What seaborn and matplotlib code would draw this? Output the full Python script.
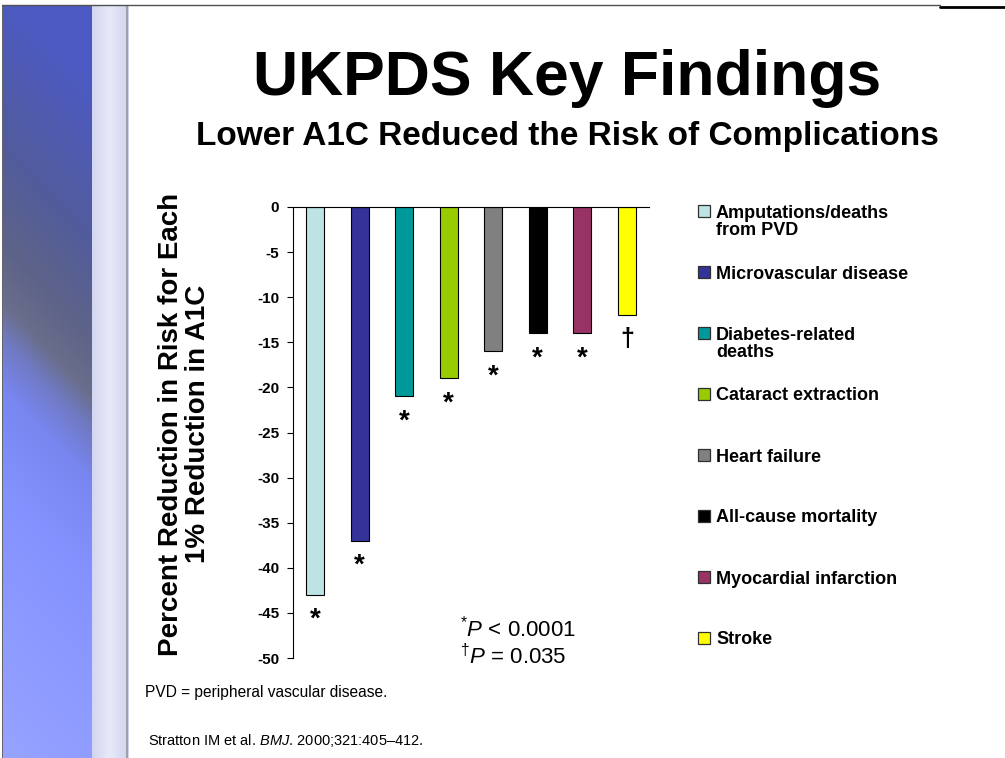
import numpy as np
import pandas as pd
import seaborn as sns
import matplotlib.pyplot as plt
from matplotlib.patches import Rectangle
from matplotlib.lines import Line2D

# values
findings = ['Amputations/deaths\nfrom PVD', 'Microvascular disease', 'Diabetes-related\ndeaths',
            'Cataract extraction', 'Heart failure', 'All-cause mortality',
            'Myocardial infarction', 'Stroke']
reduction = [-43, -37, -21, -19, -16, -14, -14, -12]
marks = ['*', '*', '*', '*', '*', '*', '*', '†']
bar_colors = ['#bde3e3', '#333399', '#009999', '#99cc00', '#808080', '#000000', '#993366', '#ffff00']
yticks = [0, -5, -10, -15, -20, -25, -30, -35, -40, -45, -50]

df = pd.DataFrame({'finding': findings, 'reduction': reduction})

sns.set_style('white')
plt.rcParams['font.family'] = ['Liberation Sans', 'DejaVu Sans']
plt.rcParams['text.color'] = 'black'
plt.rcParams['axes.labelcolor'] = 'black'
plt.rcParams['ytick.color'] = 'black'
plt.rcParams['xtick.color'] = 'black'
plt.rcParams['mathtext.fontset'] = 'custom'
plt.rcParams['mathtext.rm'] = 'Liberation Sans'
plt.rcParams['mathtext.it'] = 'Liberation Sans:italic'
plt.rcParams['mathtext.bf'] = 'Liberation Sans:bold'

W, H = 1005, 758
fig = plt.figure(figsize=(W / 100, H / 100), dpi=100)
fig.patch.set_facecolor('white')

# slide side bar: blue with a soft dark diagonal band
x0, y0, sw = 2, 5, 129
sh = H - y0
yy, xx = np.mgrid[0:sh, 0:sw - x0].astype(float)
yy += y0
xx += x0
d = yy - 290 - 1.06 * (xx - 5)
stops = [-300, -140, -40, 15, 50, 100, 200, 450]
cols = np.array([[77, 90, 195], [82, 92, 156], [94, 100, 136], [106, 110, 140],
                 [112, 122, 195], [120, 134, 240], [132, 146, 255], [150, 162, 255]]) / 255
img = np.stack([np.interp(d, stops, cols[:, k]) for k in range(3)], axis=-1)
s = ((xx - 92) / 34)[..., None]
lo = np.array([210, 214, 240]) / 255
hi = np.array([232, 234, 250]) / 255
light = lo + (hi - lo) * (1 - np.abs(2 * s - 1))
strip = xx >= 92
img[strip] = light[strip]
img[:, 126 - x0:128 - x0] = np.array([160, 160, 168]) / 255
img[:, 0] = np.array([100, 100, 105]) / 255
side = fig.add_axes([x0 / W, 0, (sw - x0) / W, sh / H])
side.imshow(img, aspect='auto', interpolation='bilinear')
side.axis('off')

fig.add_artist(Line2D([x0 / W, 940 / W], [1 - 5 / H] * 2, color='#505050', lw=1))
fig.add_artist(Line2D([940 / W, 1], [1 - 6.5 / H] * 2, color='black', lw=2))

# titles
fig.text(567 / W, 1 - 95 / H, 'UKPDS Key Findings', ha='center', va='baseline',
         fontsize=45, fontweight='bold')
fig.text(567 / W, 1 - 145 / H, 'Lower A1C Reduced the Risk of Complications', ha='center',
         va='baseline', fontsize=24, fontweight='bold')

# bar chart
ax = fig.add_axes([293 / W, 1 - 658 / H, 356 / W, 451 / H])
sns.barplot(data=df, x='finding', y='reduction', hue='finding', palette=bar_colors,
            width=0.4, saturation=1, edgecolor='black', linewidth=0.8, legend=False, ax=ax)
ax.set_ylim(-50, 0)
ax.set_xlim(-0.5, 7.5)
ax.set_yticks(yticks)
ax.set_yticklabels([str(t) for t in yticks], fontsize=11, fontweight='bold')
ax.set_xticks([])
ax.set_xlabel('')
ax.set_ylabel('')
for sp in ['bottom', 'right']:
    ax.spines[sp].set_visible(False)
for sp in ['left', 'top']:
    ax.spines[sp].set_color('black')
    ax.spines[sp].set_linewidth(0.8)
ax.tick_params(axis='y', direction='out', length=4, width=0.8, color='black', left=True, pad=6)
ax.set_facecolor('none')

for i, (v, m) in enumerate(zip(reduction, marks)):
    off = -23 if m == '*' else -22
    ax.annotate(m, xy=(i, v), xytext=(0, off), textcoords='offset points',
                ha='center', va='baseline', fontsize=20 if m == '*' else 18, fontweight='bold')

fig.text(460 / W, 1 - 636 / H, r'$^{*}\mathit{P}$ < 0.0001', fontsize=16, va='baseline')
fig.text(460 / W, 1 - 664 / H, r'$^{†}\mathit{P}$ = 0.035', fontsize=16, va='baseline')

fig.text(184 / W, 1 - 424 / H, 'Percent Reduction in Risk for Each\n1% Reduction in A1C',
         rotation=90, ha='center', va='center', multialignment='center',
         fontsize=20, fontweight='bold', linespacing=1.05)

# legend drawn beside the plot
for i, (lab, c) in enumerate(zip(findings, bar_colors)):
    cy = 211 + 61 * i
    fig.add_artist(Rectangle((698 / W, 1 - (cy + 6) / H), 12 / W, 12 / H, transform=fig.transFigure,
                             facecolor=c, edgecolor='#303030', lw=0.9))
    fig.text(716 / W, 1 - (cy - 6.5) / H, lab, fontsize=13, fontweight='bold',
             va='top', ha='left', linespacing=1.05)

fig.text(145 / W, 1 - 697 / H, 'PVD = peripheral vascular disease.', fontsize=11.2, va='baseline')
fig.text(148 / W, 1 - 745 / H, r'Stratton IM et al. $\mathit{BMJ}$. 2000;321:405–412.',
         fontsize=10.5, va='baseline')

fig.savefig('out.png', dpi=100)
